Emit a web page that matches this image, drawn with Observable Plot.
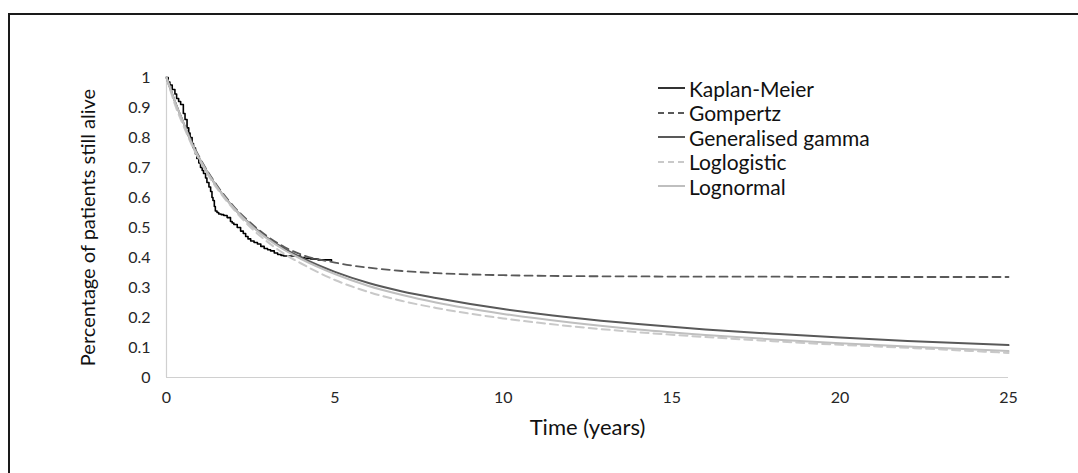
<!DOCTYPE html>
<html>
<head>
<meta charset="utf-8">
<script src="https://cdn.jsdelivr.net/npm/d3@7"></script>
<script src="https://cdn.jsdelivr.net/npm/@observablehq/plot@0.6"></script>
<style>
  html, body { margin: 0; padding: 0; background: #fff; overflow: hidden; }
  #wrap { position: relative; width: 1078px; height: 473px; }
  #frame { position: absolute; left: 8px; top: 13px; width: 1200px; height: 600px;
           border-top: 2px solid #1a1a1a; border-left: 2px solid #1a1a1a; pointer-events: none; }
  #legend { position: absolute; left: 658px; top: 76px; font-family: Lato, sans-serif; font-size: 21px; color: #111; }
  .row { display: flex; align-items: center; height: 24.5px; }
  .row svg { margin-right: 4px; }
</style>
</head>
<body>
<div id="wrap"><div id="chart"></div><div id="legend"></div><div id="frame"></div></div>
<script>
// ---- data ----
const seriesNames = ["Kaplan-Meier", "Gompertz", "Generalised gamma", "Loglogistic", "Lognormal"];
const xTicks = [0, 5, 10, 15, 20, 25];
const yTicks = [0, 0.1, 0.2, 0.3, 0.4, 0.5, 0.6, 0.7, 0.8, 0.9, 1];

const kmTime = [0, 0.05, 0.1, 0.17, 0.25, 0.3, 0.36, 0.42, 0.5, 0.55, 0.61, 0.66, 0.7, 0.76, 0.8, 0.86, 0.9, 0.96, 1.01, 1.06, 1.1, 1.16, 1.2, 1.26, 1.31, 1.35, 1.38, 1.42, 1.45, 1.5, 1.55, 1.62, 1.7, 1.8, 1.9, 1.95, 2.0, 2.1, 2.2, 2.28, 2.35, 2.42, 2.5, 2.6, 2.7, 2.8, 2.9, 3.0, 3.09, 3.2, 3.3, 3.4, 3.48, 3.6, 3.98, 4.1, 4.28, 4.5, 4.9];
const kmSurv = [1, 0.985, 0.975, 0.96, 0.945, 0.93, 0.92, 0.91, 0.88, 0.86, 0.832, 0.815, 0.80, 0.78, 0.765, 0.745, 0.73, 0.715, 0.70, 0.69, 0.68, 0.665, 0.65, 0.635, 0.62, 0.60, 0.59, 0.57, 0.555, 0.55, 0.545, 0.543, 0.54, 0.533, 0.52, 0.515, 0.51, 0.5, 0.488, 0.48, 0.47, 0.462, 0.455, 0.45, 0.445, 0.437, 0.43, 0.426, 0.422, 0.415, 0.41, 0.407, 0.405, 0.405, 0.40, 0.397, 0.395, 0.392, 0.39];

const modelTime = [0, 0.25, 0.5, 0.75, 1, 1.5, 2, 2.5, 3, 3.5, 4, 5, 6, 7, 8, 10, 12, 14, 16, 18, 20, 22, 25];
const gompertz  = [1, 0.92, 0.85, 0.785, 0.73, 0.64, 0.57, 0.515, 0.47, 0.435, 0.41, 0.383, 0.366, 0.355, 0.348, 0.341, 0.338, 0.337, 0.336, 0.336, 0.335, 0.335, 0.335];
const genGamma  = [1, 0.92, 0.85, 0.78, 0.725, 0.635, 0.565, 0.51, 0.465, 0.43, 0.40, 0.352, 0.315, 0.287, 0.265, 0.228, 0.2, 0.178, 0.16, 0.146, 0.133, 0.122, 0.108];
const loglogistic = [1, 0.91, 0.84, 0.775, 0.72, 0.63, 0.56, 0.50, 0.452, 0.412, 0.38, 0.325, 0.285, 0.255, 0.232, 0.197, 0.171, 0.151, 0.135, 0.121, 0.109, 0.099, 0.082];
const lognormal = [1, 0.92, 0.85, 0.78, 0.725, 0.635, 0.565, 0.508, 0.462, 0.425, 0.395, 0.345, 0.305, 0.275, 0.25, 0.212, 0.183, 0.16, 0.142, 0.127, 0.114, 0.103, 0.088];

// ---- styles ----
const styles = {
  "Kaplan-Meier":      {stroke: "#000000", width: 1.6, dash: null},
  "Gompertz":          {stroke: "#595959", width: 1.8, dash: "8,5"},
  "Generalised gamma": {stroke: "#595959", width: 2, dash: null},
  "Loglogistic":       {stroke: "#c9c9c9", width: 2, dash: "8,5"},
  "Lognormal":         {stroke: "#bfbfbf", width: 2, dash: null}
};

const km = kmTime.map((t, i) => ({t, s: kmSurv[i]}));
const mk = arr => modelTime.map((t, i) => ({t, s: arr[i]}));
const models = {"Gompertz": mk(gompertz), "Generalised gamma": mk(genGamma), "Loglogistic": mk(loglogistic), "Lognormal": mk(lognormal)};

const lineMark = (name, data, curve) => Plot.line(data, {
  x: "t", y: "s", curve,
  stroke: styles[name].stroke, strokeWidth: styles[name].width,
  strokeDasharray: styles[name].dash || undefined
});

const chart = Plot.plot({
  width: 1078, height: 473,
  marginLeft: 166, marginRight: 70, marginTop: 77, marginBottom: 96,
  style: {fontFamily: "Lato, sans-serif", fontSize: "16px", color: "#262626", background: "transparent"},
  x: {domain: [0, 25], ticks: xTicks},
  y: {domain: [0, 1], ticks: yTicks},
  marks: [
    Plot.ruleX([0], {stroke: "#d0d0d0", strokeWidth: 1.2}),
    Plot.ruleY([0], {stroke: "#d0d0d0", strokeWidth: 1.2}),
    Plot.axisX({ticks: xTicks, tickSize: 0, tickPadding: 14, label: null, tickFormat: d => String(d)}),
    Plot.axisY({ticks: yTicks, tickSize: 0, tickPadding: 16, label: null, tickFormat: d => String(d)}),
    lineMark("Kaplan-Meier", km, "step-after"),
    lineMark("Gompertz", models["Gompertz"], "monotone-x"),
    lineMark("Generalised gamma", models["Generalised gamma"], "monotone-x"),
    lineMark("Loglogistic", models["Loglogistic"], "monotone-x"),
    lineMark("Lognormal", models["Lognormal"], "monotone-x"),
    Plot.text(["Time (years)"], {frameAnchor: "bottom", dy: 50, lineAnchor: "middle", fontSize: 22, fill: "#111"}),
    Plot.text(["Percentage of patients still alive"], {frameAnchor: "left", dx: -78, rotate: -90, lineAnchor: "middle", textAnchor: "middle", fontSize: 20, fill: "#111"})
  ]
});
document.getElementById("chart").appendChild(chart);

// ---- legend ----
const legend = document.getElementById("legend");
for (const name of seriesNames) {
  const st = styles[name];
  const row = document.createElement("div");
  row.className = "row";
  row.innerHTML = `<svg width="27" height="6"><line x1="0" y1="3" x2="27" y2="3" stroke="${st.stroke}" stroke-width="${st.width}" ${st.dash ? `stroke-dasharray="6,4"` : ""}/></svg><span>${name}</span>`;
  legend.appendChild(row);
}
</script>
</body>
</html>
